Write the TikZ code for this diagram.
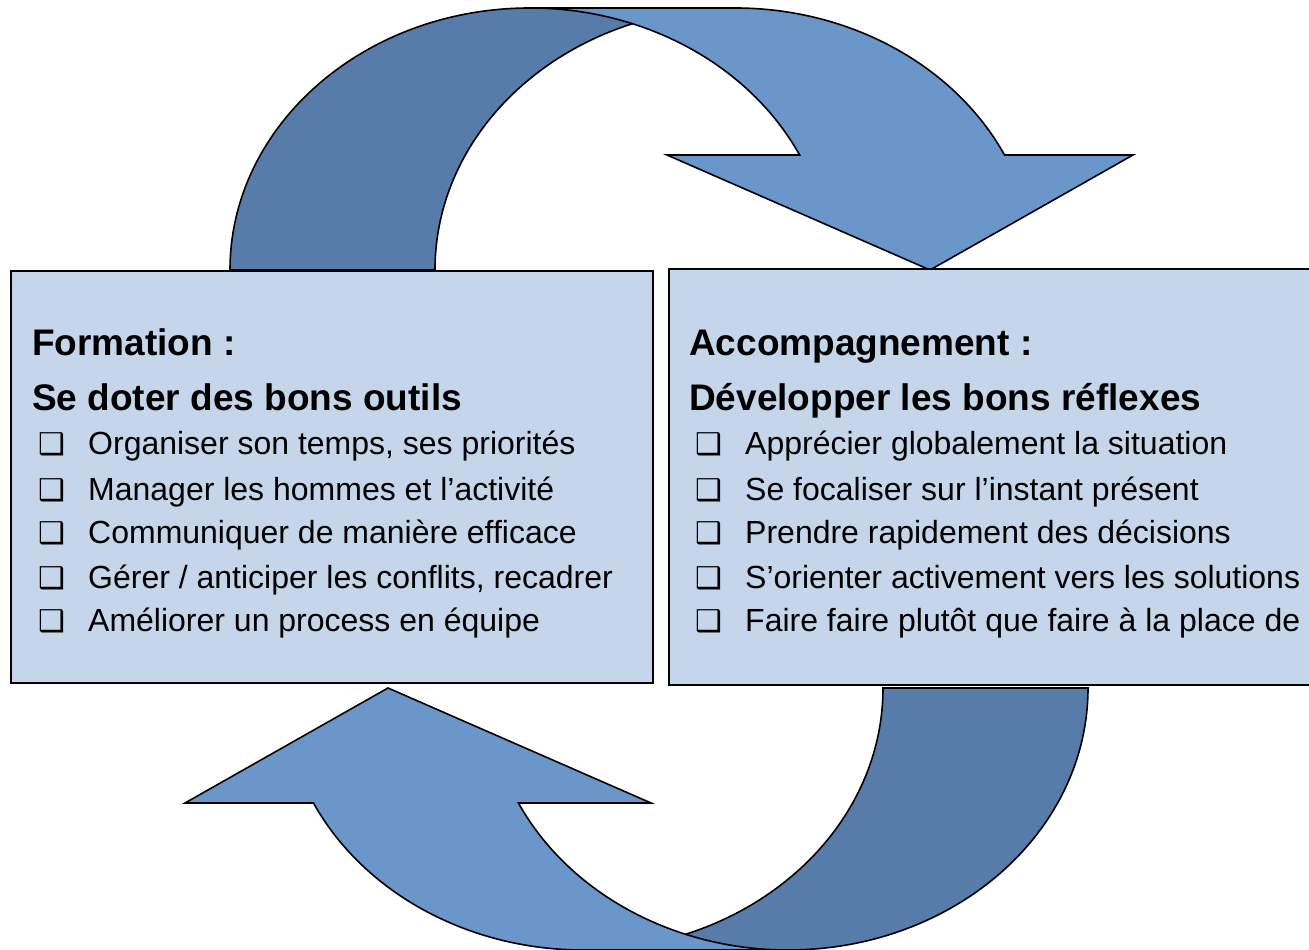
\documentclass[tikz,border=0pt]{standalone}
\usepackage{fontspec}
\setmainfont{Liberation Sans}
\newfontfamily\symbfont{DejaVu Sans}
\usetikzlibrary{calc}

\definecolor{bandDark}{RGB}{88,124,170}
\definecolor{bandLight}{RGB}{106,150,202}
\definecolor{boxFill}{RGB}{197,213,234}

\tikzset{
  darkband/.style={fill=bandDark, draw=black, line width=1.6pt},
  lightband/.style={fill=bandLight, draw=black, line width=1.6pt},
  box/.style={draw=black, line width=1.8pt, fill=boxFill, inner sep=0pt, anchor=south west},
  head/.style={anchor=base west, inner sep=0pt, font=\fontsize{37}{44}\selectfont\bfseries},
  item/.style={anchor=base west, inner sep=0pt, font=\fontsize{32}{38}\selectfont},
  tick/.style={anchor=base west, inner sep=0pt, font=\symbfont\fontsize{30}{36}\selectfont},
}

\begin{document}
\begin{tikzpicture}[x=1pt, y=1pt]
\useasboundingbox (0,0) rectangle (1309,950);
\clip (0,0) rectangle (1309,950);

% curved arrows: the lower one is the upper one turned round
\foreach \r in {0,180}
{
\begin{scope}[rotate around={\r:(659,471)}]
\draw[darkband] (230,680) arc[start angle=180, end angle=90, x radius=300pt, y radius=262pt]
  -- (735,942) arc[start angle=90, end angle=180, x radius=300pt, y radius=262pt] -- cycle;
\draw[lightband] (530,942) -- (735,942)
  arc[start angle=90, end angle=26.03, x radius=300pt, y radius=262pt]
  -- (1133,795) -- (930,680) -- (667,795) -- (799.6,795)
  arc[start angle=26.03, end angle=90, x radius=300pt, y radius=262pt] -- cycle;
\end{scope}
}

% boxes
\node[box, minimum width=642pt, minimum height=412pt] (formation) at (10,266) {};
\node[box, minimum width=662pt, minimum height=416pt] (accomp) at (668,264) {};

% left box text
\node[head] (formTitle) at (32,594) {Formation :};
\node[head] (formSub) at (32,539) {Se doter des bons outils};
\foreach \yy/\txt [count=\i] in {495/{Organiser son temps, ses priorités},
  449/{Manager les hommes et l’activité},
  406/{Communiquer de manière efficace},
  361/{Gérer / anticiper les conflits, recadrer},
  318/{Améliorer un process en équipe}}
{
\node[tick] (fb\i) at (38,\yy) {❑};
\node[item] (fi\i) at (88,\yy) {\txt};
}

% right box text
\node[head] (accTitle) at (689,594) {Accompagnement :};
\node[head] (accSub) at (689,539) {Développer les bons réflexes};
\foreach \yy/\txt [count=\i] in {495/{Apprécier globalement la situation},
  449/{Se focaliser sur l’instant présent},
  406/{Prendre rapidement des décisions},
  361/{S’orienter activement vers les solutions},
  318/{Faire faire plutôt que faire à la place de}}
{
\node[tick] (ab\i) at (695,\yy) {❑};
\node[item] (ai\i) at (745,\yy) {\txt};
}

\end{tikzpicture}
\end{document}
